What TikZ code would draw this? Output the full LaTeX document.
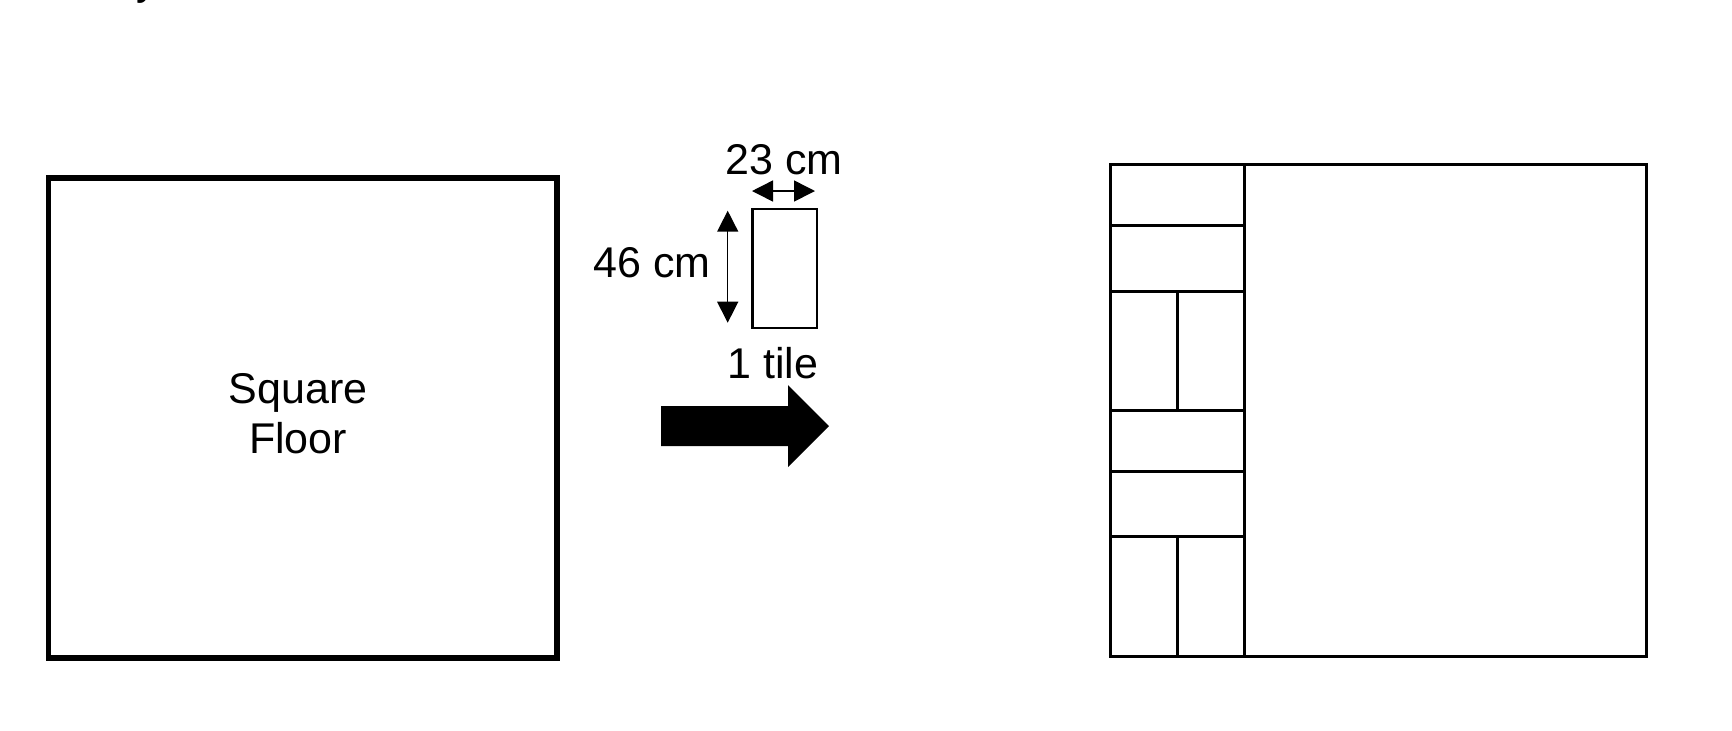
\documentclass[tikz,border=0pt]{standalone}
\usepackage{fontspec}
\setmainfont{Liberation Sans}
\usetikzlibrary{arrows.meta}
\begin{document}
\begin{tikzpicture}[x=0.5pt,y=-0.5pt,
  lbl/.style={font=\fontsize{21.5pt}{25pt}\selectfont, inner sep=0pt, anchor=base},
  floor/.style={line width=2.8pt},
  tileline/.style={line width=1.5pt},
  dim/.style={line width=0.75pt, {Triangle[length=10.5pt,width=10.5pt]}-{Triangle[length=10.5pt,width=10.5pt]}}]
\useasboundingbox (0,0) rectangle (1732,730);
% fragment of text above the crop
\node[lbl, anchor=base west] (frag) at (136,-6) {y};
% left square floor
\draw[floor] (48.5,178) rectangle (557,658);
\node[lbl] (sq1) at (298,403) {Square};
\node[lbl] (sq2) at (298,453) {Floor};
% tile
\draw[line width=1.4pt] (752.5,209) rectangle (817,328);
\draw[dim] (752,191) -- (815,191);
\draw[dim] (727.7,210.7) -- (727.7,322.7);
\node[lbl] (w) at (784,174) {23 cm};
\node[lbl] (h) at (652,277) {46 cm};
\node[lbl] (t) at (773,378) {1 tile};
% block arrow
\fill (661,406) -- (788,406) -- (788,385) -- (829,426) -- (788,467) -- (788,446) -- (661,446) -- cycle;
% tiled floor
\draw[tileline] (1110,164) rectangle (1646,656);
\draw[tileline] (1244,164) -- (1244,656);
\foreach \yy in {225.5,291,410,471.5,536} \draw[tileline] (1110,\yy) -- (1244,\yy);
\draw[tileline] (1177,291) -- (1177,410);
\draw[tileline] (1177,536) -- (1177,656);
\end{tikzpicture}
\end{document}
